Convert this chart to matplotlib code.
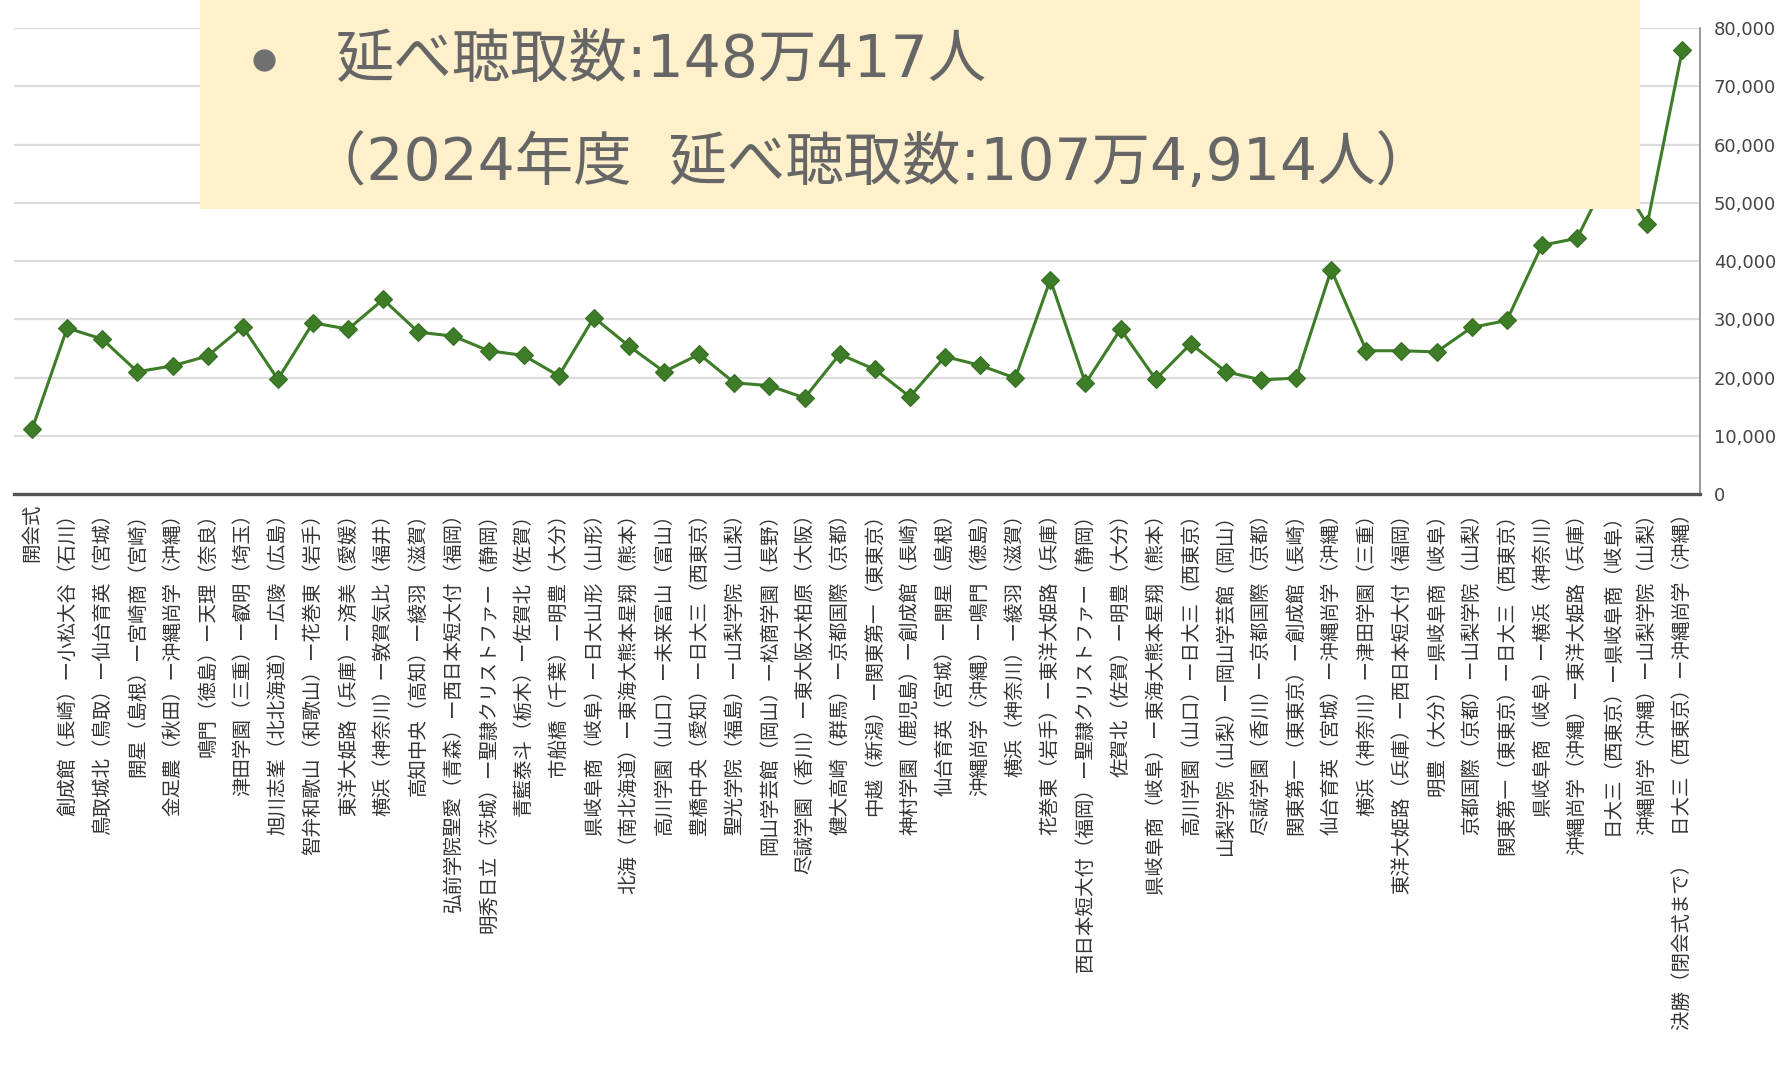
import matplotlib.pyplot as plt
from matplotlib.patches import Rectangle
from matplotlib.lines import Line2D
from matplotlib.ticker import StrMethodFormatter

# match labels (bottom axis)
matches = [
    '開会式',
    '創成館（長崎）ー小松大谷（石川）',
    '鳥取城北（鳥取）ー仙台育英（宮城）',
    '開星（島根）ー宮崎商（宮崎）',
    '金足農（秋田）ー沖縄尚学（沖縄）',
    '鳴門（徳島）ー天理（奈良）',
    '津田学園（三重）ー叡明（埼玉）',
    '旭川志峯（北北海道）ー広陵（広島）',
    '智弁和歌山（和歌山）ー花巻東（岩手）',
    '東洋大姫路（兵庫）ー済美（愛媛）',
    '横浜（神奈川）ー敦賀気比（福井）',
    '高知中央（高知）ー綾羽（滋賀）',
    '弘前学院聖愛（青森）ー西日本短大付（福岡）',
    '明秀日立（茨城）ー聖隷クリストファー（静岡）',
    '青藍泰斗（栃木）ー佐賀北（佐賀）',
    '市船橋（千葉）ー明豊（大分）',
    '県岐阜商（岐阜）ー日大山形（山形）',
    '北海（南北海道）ー東海大熊本星翔（熊本）',
    '高川学園（山口）ー未来富山（富山）',
    '豊橋中央（愛知）ー日大三（西東京）',
    '聖光学院（福島）ー山梨学院（山梨）',
    '岡山学芸館（岡山）ー松商学園（長野）',
    '尽誠学園（香川）ー東大阪大柏原（大阪）',
    '健大高崎（群馬）ー京都国際（京都）',
    '中越（新潟）ー関東第一（東東京）',
    '神村学園（鹿児島）ー創成館（長崎）',
    '仙台育英（宮城）ー開星（島根）',
    '沖縄尚学（沖縄）ー鳴門（徳島）',
    '横浜（神奈川）ー綾羽（滋賀）',
    '花巻東（岩手）ー東洋大姫路（兵庫）',
    '西日本短大付（福岡）ー聖隷クリストファー（静岡）',
    '佐賀北（佐賀）ー明豊（大分）',
    '県岐阜商（岐阜）ー東海大熊本星翔（熊本）',
    '高川学園（山口）ー日大三（西東京）',
    '山梨学院（山梨）ー岡山学芸館（岡山）',
    '尽誠学園（香川）ー京都国際（京都）',
    '関東第一（東東京）ー創成館（長崎）',
    '仙台育英（宮城）ー沖縄尚学（沖縄）',
    '横浜（神奈川）ー津田学園（三重）',
    '東洋大姫路（兵庫）ー西日本短大付（福岡）',
    '明豊（大分）ー県岐阜商（岐阜）',
    '京都国際（京都）ー山梨学院（山梨）',
    '関東第一（東東京）ー日大三（西東京）',
    '県岐阜商（岐阜）ー横浜（神奈川）',
    '沖縄尚学（沖縄）ー東洋大姫路（兵庫）',
    '日大三（西東京）ー県岐阜商（岐阜）',
    '沖縄尚学（沖縄）ー山梨学院（山梨）',
    '決勝（閉会式まで）　日大三（西東京）ー沖縄尚学（沖縄）',
]

# listeners per match
listeners = [
    11100, 28500, 26600, 21000, 22000, 23700, 28700, 19700,
    29400, 28300, 33400, 27800, 27100, 24600, 23800, 20300,
    30300, 25400, 21000, 24000, 19100, 18600, 16500, 24000,
    21400, 16700, 23600, 22100, 19900, 36800, 19000, 28300,
    19700, 25800, 21000, 19600, 19900, 38500, 24600, 24600,
    24400, 28600, 29800, 42700, 43900, 56000, 46300, 76300,
]

yticks = [0, 10000, 20000, 30000, 40000, 50000, 60000, 70000, 80000]

title_line1 = '延べ聴取数:148万417人'
title_line2 = '（2024年度  延べ聴取数:107万4,914人）'

jp = ['Noto Sans CJK JP', 'DejaVu Sans']
# wide latin digits like the original slide, kanji from Noto
title_font = ['DejaVu Sans', 'Noto Sans CJK JP']
green = '#3e7d27'

fig = plt.figure(figsize=(17.79, 10.74), dpi=100)
ax = fig.add_axes([0.00815, 0.540, 0.9474, 0.4339])

x = list(range(len(matches)))
ax.plot(x, listeners, color=green, lw=2.2, marker='D', ms=9,
        markerfacecolor=green, markeredgecolor='#356d22', markeredgewidth=0.8,
        zorder=3)

ax.set_xlim(-0.5, len(matches) - 0.5)
ax.set_ylim(0, 80000)
ax.set_yticks(yticks)
ax.yaxis.set_major_formatter(StrMethodFormatter('{x:,.0f}'))
ax.yaxis.tick_right()
ax.grid(axis='y', color='#dcdcdc', lw=1.6)
ax.set_axisbelow(True)

ax.set_xticks(x)
ax.set_xticklabels(matches, rotation=90, family=jp, fontsize=14,
                   color='#333333')
ax.tick_params(axis='x', length=0, pad=7)
ax.tick_params(axis='y', length=0, pad=10, labelsize=13, labelcolor='#444444')

for side in ['top', 'left']:
    ax.spines[side].set_visible(False)
ax.spines['bottom'].set_color('#555555')
ax.spines['bottom'].set_linewidth(2.4)
ax.spines['right'].set_color('#888888')
ax.spines['right'].set_linewidth(1.2)

# summary box on top of the chart
box = Rectangle((0.1124, 0.8054), 0.8095, 0.2, transform=fig.transFigure,
                facecolor='#fff0cc', edgecolor='none', zorder=10)
fig.add_artist(box)
fig.add_artist(Line2D([0.1484], [0.944], marker='o', ms=15, color='#707070',
                      transform=fig.transFigure, zorder=11))
fig.text(0.1885, 0.944, title_line1, family=title_font, fontsize=42,
         color='#666666', va='center', ha='left', zorder=11)
fig.text(0.1731, 0.848, title_line2, family=title_font, fontsize=42,
         color='#666666', va='center', ha='left', zorder=11)

plt.savefig('out.png', dpi=100)
